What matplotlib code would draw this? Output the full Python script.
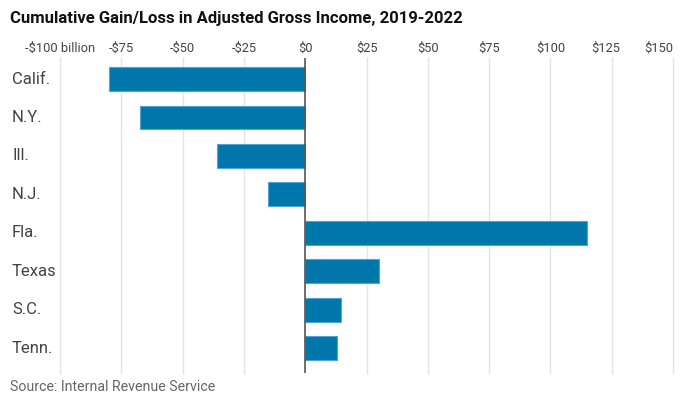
import matplotlib
matplotlib.use("Agg")
import matplotlib.pyplot as plt
from matplotlib import font_manager

states = ["Calif.", "N.Y.", "Ill.", "N.J.", "Fla.", "Texas", "S.C.", "Tenn."]
values = [-80.0, -67.3, -35.8, -15.0, 114.8, 30.3, 14.7, 12.9]
ticks = [-100, -75, -50, -25, 0, 25, 50, 75, 100, 125, 150]
tick_labels = ["-$100 billion", "-$75", "-$50", "-$25", "$0", "$25", "$50",
               "$75", "$100", "$125", "$150"]
title = "Cumulative Gain/Loss in Adjusted Gross Income, 2019-2022"
source = "Source: Internal Revenue Service"

names = {f.name for f in font_manager.fontManager.ttflist}
fam = "Liberation Sans Narrow" if "Liberation Sans Narrow" in names else "Roboto"
plt.rcParams["font.family"] = [fam, "DejaVu Sans"]

W, H = 690, 404
fig = plt.figure(figsize=(W / 100, H / 100), dpi=100)
x0, x1 = 60, 673
y0, y1 = 58, 373
ax = fig.add_axes([x0 / W, 1 - y1 / H, (x1 - x0) / W, (y1 - y0) / H])

ypos = list(range(len(states)))
ax.barh(ypos, values, height=0.62, color="#0077ab", edgecolor="#4fa3d6",
        linewidth=0.8, zorder=3)
ax.set_xlim(-100, 150)
ax.set_ylim(7.65, -0.55)

for t in ticks:
    if t == 0:
        continue
    ax.axvline(t, color="#e4e4e4", lw=1.0, zorder=1, clip_on=False)
ax.axvline(0, color="#555555", lw=1.2, zorder=4)

for s in ax.spines.values():
    s.set_visible(False)
ax.set_xticks([])
ax.set_yticks([])

for t, lab in zip(ticks, tick_labels):
    ha = "center"
    xt = t
    if t == 150:
        ha = "right"
    if t == 125:
        xt = t - 2.5
    ax.text(xt, -0.8, lab, ha=ha, va="center", fontsize=9.3, color="#444444",
            transform=ax.transData)

for i, s in enumerate(states):
    ax.annotate(s, xy=(12 / W, i), xycoords=("figure fraction", "data"),
                ha="left", va="center", fontsize=12, color="#444444")

fig.text(10 / W, 1 - 18 / H, title, ha="left", va="center", fontsize=12,
         fontweight="bold", color="#111111")
fig.text(10 / W, 1 - 387 / H, source, ha="left", va="center", fontsize=10.2,
         color="#666666")

fig.savefig("out.png", dpi=100)
